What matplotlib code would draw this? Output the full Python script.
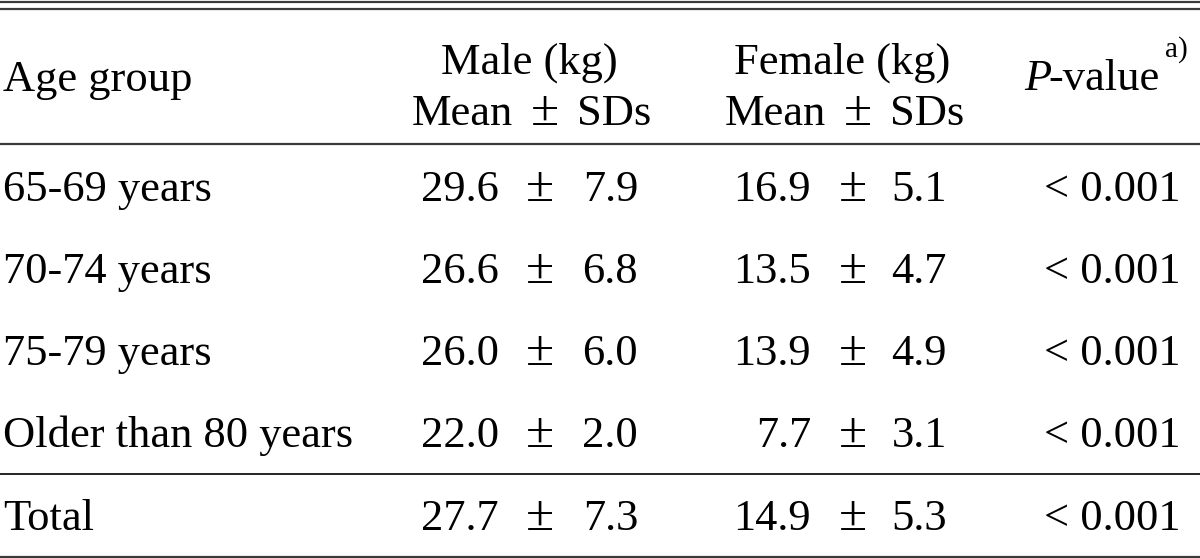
import matplotlib.pyplot as plt

plt.rcParams["font.family"] = ["Liberation Serif", "DejaVu Serif"]

# Table data
age_groups = ["65-69 years", "70-74 years", "75-79 years", "Older than 80 years", "Total"]
male_mean = ["29.6", "26.6", "26.0", "22.0", "27.7"]
male_sd = ["7.9", "6.8", "6.0", "2.0", "7.3"]
female_mean = ["16.9", "13.5", "13.9", "7.7", "14.9"]
female_sd = ["5.1", "4.7", "4.9", "3.1", "5.3"]
p_values = ["< 0.001", "< 0.001", "< 0.001", "< 0.001", "< 0.001"]

W, H = 1200, 558
fig = plt.figure(figsize=(W / 100, H / 100), dpi=100)
ax = fig.add_axes([0, 0, 1, 1])
ax.set_xlim(0, W)
ax.set_ylim(H, 0)
ax.axis("off")

fs = 32
pm_fs = 37
kw = dict(fontsize=fs, va="baseline", color="black")
pm_kw = dict(fontsize=pm_fs, va="baseline", color="black", ha="center")

# horizontal rules
for y, lw, c in [(1.5, 1.6, "#3a3a3a"), (9, 1.6, "#3a3a3a"), (144, 1.6, "#3a3a3a"),
                 (474, 1.2, "black"), (556.5, 1.6, "#3a3a3a")]:
    ax.plot([0, W], [y, y], color=c, lw=lw, solid_capstyle="butt")

# header
ax.text(3, 91, "Age group", ha="left", **kw)
for cx, label in [(529, "Male (kg)"), (842, "Female (kg)")]:
    ax.text(cx, 74, label, ha="center", **kw)
    ax.text(cx - 16, 125, "Mean", ha="right", **kw)
    ax.text(cx + 16, 125, "\u00b1", **pm_kw)
    ax.text(cx + 48, 125, "SDs", ha="left", **kw)
ax.text(1051, 90, "P", ha="right", style="italic", **kw)
ax.text(1160, 90, "-value", ha="right", **kw)
ax.text(1165, 57, "a)", ha="left", fontsize=21, va="baseline")

# body rows
baselines = [201, 283, 365, 447, 530]
for i, yb in enumerate(baselines):
    ax.text(3, yb, age_groups[i], ha="left", **kw)
    ax.text(499, yb, male_mean[i], ha="right", **kw)
    ax.text(540, yb, "\u00b1", **pm_kw)
    ax.text(638, yb, male_sd[i], ha="right", **kw)
    ax.text(811, yb, female_mean[i], ha="right", **kw)
    ax.text(853, yb, "\u00b1", **pm_kw)
    ax.text(947, yb, female_sd[i], ha="right", **kw)
    ax.text(1181, yb, p_values[i], ha="right", **kw)

fig.savefig("out.png", dpi=100)
